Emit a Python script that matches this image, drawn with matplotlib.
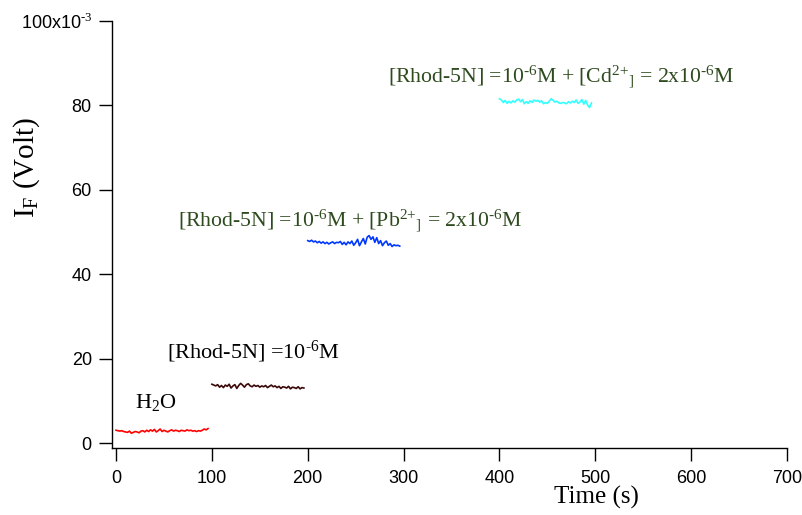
import numpy as np
import matplotlib
matplotlib.use('Agg')
from matplotlib import pyplot as plt

plt.rcParams['font.family'] = 'Liberation Sans'
plt.rcParams['mathtext.fontset'] = 'custom'
plt.rcParams['mathtext.rm'] = 'Liberation Serif'
plt.rcParams['mathtext.sf'] = 'Liberation Sans'
plt.rcParams['mathtext.default'] = 'regular'

# traces, I_F in units of 1e-3 V, sampled every 2 s
t_h2o = np.arange(0, 98, 2)
i_h2o = [3.1, 3.0, 2.9, 3.0, 2.8, 2.7, 2.6, 2.9, 2.4, 2.6, 2.8, 2.7, 2.5, 2.9, 3.0, 2.7,
         3.1, 2.8, 3.2, 2.9, 3.3, 2.7, 3.0, 3.4, 2.8, 3.1, 2.9, 2.7, 3.0, 3.2, 2.9, 3.1,
         3.0, 2.8, 3.1, 3.0, 2.9, 3.2, 3.0, 3.1, 2.9, 3.0, 2.8, 3.0, 2.9, 3.1, 3.4, 3.2, 3.5]

t_rhod = np.arange(100, 198, 2)
i_rhod = [14.0, 13.8, 13.6, 13.9, 13.3, 13.7, 13.2, 13.8, 13.5, 14.0, 13.1, 13.6, 13.9, 13.0,
          13.7, 14.2, 13.8, 13.3, 13.9, 14.1, 13.6, 13.4, 13.8, 13.5, 13.7, 13.3, 13.6, 13.4,
          13.7, 13.2, 13.5, 13.8, 13.4, 13.6, 13.2, 13.5, 13.0, 13.4, 13.3, 13.1, 13.5, 12.9,
          13.3, 13.2, 13.0, 13.4, 12.9, 13.2, 13.1]

t_pb = np.arange(200, 298, 2)
i_pb = [48.0, 47.8, 48.1, 47.7, 47.9, 47.5, 47.8, 47.4, 47.7, 47.3, 47.6, 47.2, 47.5, 47.7,
        47.3, 47.6, 47.5, 47.8, 47.1, 47.6, 47.0, 47.7, 47.3, 47.9, 46.9, 47.5, 48.3, 46.8,
        47.7, 48.5, 47.2, 48.8, 49.2, 48.3, 48.9, 47.6, 48.7, 47.3, 48.0, 46.8, 47.5, 47.9,
        46.9, 47.3, 46.6, 47.0, 46.8, 46.9, 46.7]

t_cd = np.arange(400, 498, 2)
i_cd = [81.6, 81.3, 80.7, 81.2, 80.5, 81.0, 80.6, 81.1, 80.8, 81.3, 81.5, 80.9, 81.4, 80.4,
        80.9, 80.5, 81.1, 80.7, 81.3, 81.0, 81.2, 80.8, 81.1, 80.4, 80.7, 80.5, 81.0, 81.6,
        81.2, 80.8, 81.0, 80.6, 80.5, 80.7, 80.6, 80.4, 80.9, 80.6, 81.0, 80.7, 81.3, 80.5,
        80.8, 81.4, 80.3, 81.2, 80.1, 79.5, 80.6]

y_ticks = [0, 20, 40, 60, 80, 100]
y_ticklabels = ['0', '20', '40', '60', '80', r'100x10$^{\text{-3}}$']
x_ticks = [0, 100, 200, 300, 400, 500, 600, 700]

lbl_cd = r'[Rhod-5N] =10$^{\text{-6}}$M + [Cd$^{\text{2+}}$$_{]}$ = 2x10$^{\text{-6}}$M'
lbl_pb = r'[Rhod-5N] =10$^{\text{-6}}$M + [Pb$^{\text{2+}}$$_{]}$ = 2x10$^{\text{-6}}$M'
lbl_rhod = r'[Rhod-5N] =10$^{\text{-6}}$M'
lbl_h2o = r'H$_2$O'

txt_col = '#2e4a1f'
serif = 'Liberation Serif'

fig = plt.figure(figsize=(8.02, 5.15), dpi=100)
ax = fig.add_axes([112/802, (515-448)/515, (787-112)/802, (448-21)/515])

ax.plot(t_h2o, i_h2o, color='#ff0000', lw=1.2)
ax.plot(t_rhod, i_rhod, color='#3a0808', lw=1.2)
ax.plot(t_pb, i_pb, color='#0038ff', lw=1.2)
ax.plot(t_cd, i_cd, color='#33ffff', lw=1.2)

ax.set_xlim(-4.2, 700)
ax.set_ylim(-1.1, 100)
ax.spines['top'].set_visible(False)
ax.spines['right'].set_visible(False)
for s in ['left', 'bottom']:
    ax.spines[s].set_linewidth(1.0)
ax.set_xticks(x_ticks)
ax.set_yticks(y_ticks)
ax.set_yticklabels(y_ticklabels)
ax.tick_params(direction='out', length=9.5, width=1.0, labelsize=13)
ax.tick_params(axis='x', pad=6)
ax.tick_params(axis='y', pad=5)

fig.text(388/802, 1 - 82/515, lbl_cd, family=serif, fontsize=15.7, color=txt_col, va='baseline')
fig.text(178/802, 1 - 226/515, lbl_pb, family=serif, fontsize=15.7, color=txt_col, va='baseline')
fig.text(167/802, 1 - 358/515, lbl_rhod, family=serif, fontsize=16, color='black', va='baseline')
fig.text(135/802, 1 - 408/515, lbl_h2o, family=serif, fontsize=16, color='black', va='baseline')

fig.text(596/802, 1 - 497/515, 'Time (s)', family=serif, fontsize=18, ha='center', va='center')
fig.text(27/802, 1 - 167/515, r'I$_F$ (Volt)', family=serif, fontsize=21,
         rotation=90, ha='center', va='center')

fig.savefig('out.png', dpi=100)
